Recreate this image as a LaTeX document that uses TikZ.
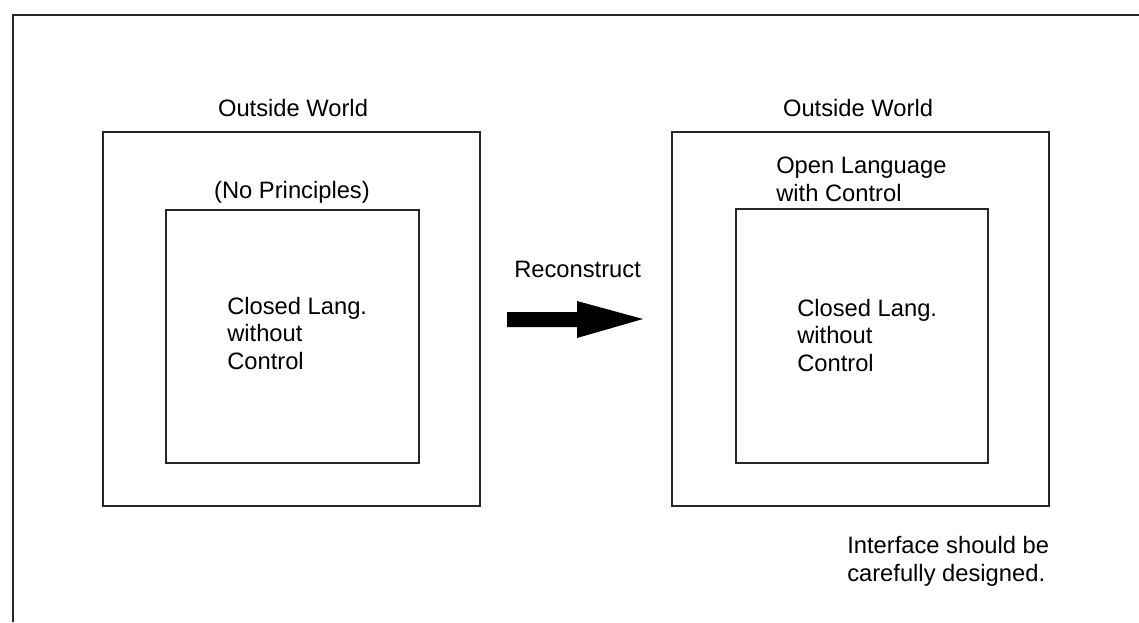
\documentclass[tikz,border=0pt]{standalone}
\usepackage{fontspec}
\setmainfont{Liberation Sans}
\begin{document}
\begin{tikzpicture}[x=0.75pt,y=-0.75pt,
  frame/.style={line width=1.6pt,black!85},
  boxline/.style={draw,line width=1.6pt,black!85},
  lbl/.style={inner sep=0pt,font=\fontsize{17.8}{20.6}\selectfont,align=left},
]
\useasboundingbox (0,0) rectangle (1139,622);
% page frame (open at the right and bottom)
\draw[frame] (13,622) -- (13,15) -- (1139,15);

% left pair of boxes
\draw[boxline] (103,132) rectangle (480,506);
\draw[boxline] (166,210) rectangle (419,463);
\node[lbl,anchor=base] (ow1) at (293,116) {Outside World};
\node[lbl,anchor=base] (np) at (292,198) {(No Principles)};
% multi-line labels: the base anchor sits on the last line
\node[lbl,anchor=base west] (cl1) at (227,369) {Closed Lang.\\without\\Control};

% right pair of boxes
\draw[boxline] (672,132) rectangle (1049,506);
\draw[boxline] (736,209) rectangle (988,463);
\node[lbl,anchor=base] (ow2) at (858,116) {Outside World};
\node[lbl,anchor=base west] (ol) at (776,201) {Open Language\\with Control};
\node[lbl,anchor=base west] (cl2) at (797,371) {Closed Lang.\\without\\Control};

% transformation arrow
\node[lbl,anchor=base west] (rc) at (514,277) {Reconstruct};
\fill[black] (507,312) -- (577,312) -- (577,301) -- (643,319) -- (577,338)
  -- (577,327) -- (507,327) -- cycle;

% note
\node[lbl,anchor=base west] (note) at (847,581) {Interface should be\\carefully designed.};
\end{tikzpicture}
\end{document}
